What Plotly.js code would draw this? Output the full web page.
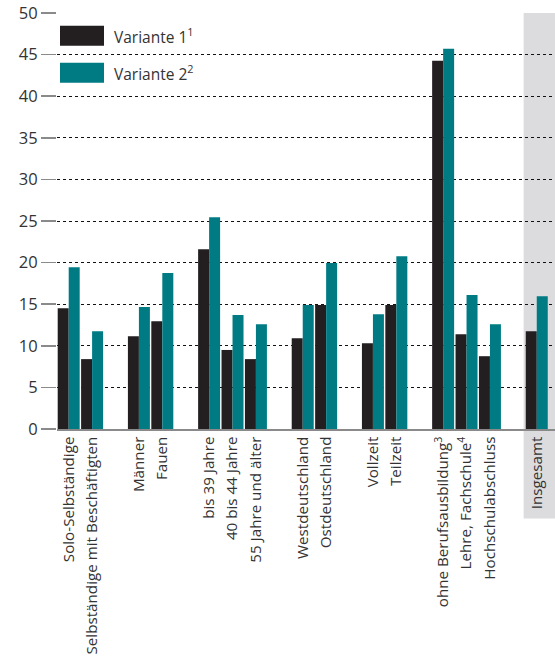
<!DOCTYPE html>
<html>
<head>
<meta charset="utf-8">
<script src="https://cdn.plot.ly/plotly-3.0.1.min.js"></script>
<style>html,body{margin:0;padding:0;background:#fff;}#chart{width:555px;height:659px;}</style>
</head>
<body>
<div id="chart"></div>
<script>
// Category labels (blank entries are group separators)
const categories = [
  "Solo-Selbständige",
  "Selbständige mit Beschäftigten",
  "",
  "Männer",
  "Fauen",
  "",
  "bis 39 Jahre",
  "40 bis 44 Jahre",
  "55 Jahre und älter",
  "",
  "Westdeutschland",
  "Ostdeutschland",
  "",
  "Vollzeit",
  "Teilzeit",
  "",
  "ohne Berufsausbildung<sup>3</sup>",
  "Lehre, Fachschule<sup>4</sup>",
  "Hochschulabschluss",
  "",
  "Insgesamt"
];
const variante1 = [14.5, 8.4, null, 11.15, 12.95, null, 21.6, 9.5, 8.4, null, 10.9, 14.9, null, 10.3, 14.9, null, 44.25, 11.4, 8.75, null, 11.75];
const variante2 = [19.45, 11.75, null, 14.65, 18.75, null, 25.45, 13.7, 12.6, null, 14.9, 19.95, null, 13.8, 20.75, null, 45.7, 16.1, 12.6, null, 15.95];
const seriesNames = ["Variante 1<sup>1</sup>", "Variante 2<sup>2</sup>"];
const yTicks = [0, 5, 10, 15, 20, 25, 30, 35, 40, 45, 50];

const xIdx = categories.map((c, i) => i);
const colors = ["#231f20", "#007b84"];
const font = "'Open Sans', 'Noto Sans', sans-serif";

const traces = [
  {type: "bar", name: seriesNames[0], x: xIdx, y: variante1, marker: {color: colors[0]}, hoverinfo: "y"},
  {type: "bar", name: seriesNames[1], x: xIdx, y: variante2, marker: {color: colors[1]}, hoverinfo: "y"}
];

const layout = {
  width: 555, height: 659,
  margin: {l: 57, r: 0, t: 13, b: 230},
  paper_bgcolor: "#fff", plot_bgcolor: "rgba(0,0,0,0)",
  barmode: "group", bargap: 0.06, bargroupgap: 0,
  showlegend: false,
  font: {family: font, color: "#333", size: 14},
  xaxis: {
    range: [-0.5, 20.78],
    tickmode: "array", tickvals: xIdx.filter(i => categories[i] !== ""),
    ticktext: categories.filter(c => c !== ""),
    tickangle: -90, ticks: "", showgrid: false, zeroline: false,
    showline: true, linecolor: "#8a8a8a", linewidth: 1.5,
    tickfont: {family: font, size: 15.2, color: "#333"}
  },
  yaxis: {
    range: [0, 50], tickmode: "array", tickvals: yTicks,
    ticks: "outside", ticklen: 15, tickwidth: 1.5, tickcolor: "#8a8a8a",
    showgrid: true, gridcolor: "#111", gridwidth: 1, griddash: "3px,3px",
    zeroline: false, showline: false,
    tickfont: {family: font, size: 16.5, color: "#333"}
  },
  shapes: [
    {type: "rect", layer: "below", xref: "x", yref: "paper", x0: 19.44, x1: 21, y0: -0.215, y1: 1,
     fillcolor: "#dcdcde", line: {width: 0}},
    {type: "rect", xref: "paper", yref: "paper", x0: (60-57)/498, x1: (104-57)/498,
     y0: (428.7-46)/415.4, y1: (428.7-26)/415.4, fillcolor: colors[0], line: {width: 0}},
    {type: "rect", xref: "paper", yref: "paper", x0: (60-57)/498, x1: (104-57)/498,
     y0: (428.7-83)/415.4, y1: (428.7-63)/415.4, fillcolor: colors[1], line: {width: 0}}
  ],
  annotations: [
    {xref: "paper", yref: "paper", x: (112-57)/498, y: (428.7-36)/415.4, xanchor: "left", yanchor: "middle",
     text: seriesNames[0], showarrow: false, font: {family: font, size: 15.5, color: "#333"}},
    {xref: "paper", yref: "paper", x: (112-57)/498, y: (428.7-73)/415.4, xanchor: "left", yanchor: "middle",
     text: seriesNames[1], showarrow: false, font: {family: font, size: 15.5, color: "#333"}}
  ]
};

Plotly.newPlot("chart", traces, layout, {displayModeBar: false, staticPlot: true});
</script>
</body>
</html>
